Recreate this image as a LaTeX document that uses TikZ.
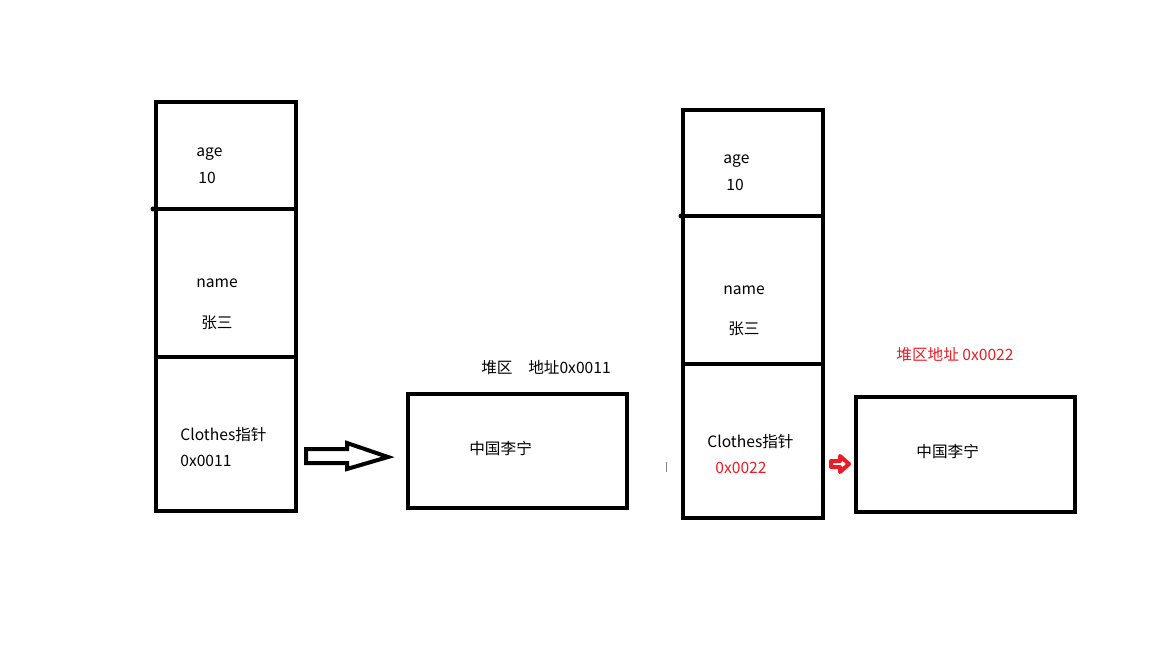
\documentclass[tikz,border=0pt]{standalone}
\usepackage{fontspec}
\setmainfont{Noto Sans CJK SC}
\definecolor{ptrred}{RGB}{237,28,36}
\begin{document}
\begin{tikzpicture}[x=0.02cm, y=-0.02cm,
    cell/.style={rectangle, draw, line width=0.08cm, inner sep=0pt, outer sep=0pt, minimum width=2.8cm},
    heap node/.style={rectangle, draw, line width=0.08cm, inner sep=0pt, outer sep=0pt, minimum width=4.38cm},
    txt/.style={anchor=west, inner sep=0pt}]
        \tikzstyle{every node}=[font=\fontsize{8.9}{10}\selectfont]
        \useasboundingbox (0,0) rectangle (1152,648);

          % stack, first object
          \node[cell, minimum height=2.14cm] (age1) at (226,155.5) {};
          \node[cell, minimum height=2.96cm] (name1) at (226,283) {};
          \node[cell, minimum height=3.08cm] (cloth1) at (226,434) {};
          \fill (153,209) circle (2.5);
          \node[txt] (agek1) at (196,154) {age};
          \node[txt] (agev1) at (198,178) {10};
          \node[txt] (namek1) at (196,283) {name};
          \node[txt] (namev1) at (201,323) {张三};
          \node[txt] (clothk1) at (180,435) {Clothes指针};
          \node[txt] (clothv1) at (180,461) {0x0011};

          % heap, first object
          \node[heap node, minimum height=2.28cm] (heap1) at (517.5,451) {};
          \node[txt] (heapt1) at (481,368) {堆区\quad 地址0x0011};
          \node[txt] (heapv1) at (469,449) {中国李宁};
          \coordinate (a1) at (306,456);
          \draw[line width=0.08cm, line join=miter] (a1) ++(0,-7) -- ++(41,0) -- ++(0,-6)
              -- ++(41,14) -- ++(-41,12) -- ++(0,-6) -- ++(-41,0) -- cycle;

          % stack, second object
          \node[cell, minimum height=2.12cm] (age2) at (753,163) {};
          \node[cell, minimum height=2.96cm] (name2) at (753,290) {};
          \node[cell, minimum height=3.08cm] (cloth2) at (753,441) {};
          \fill (681,216) circle (2.5);
          \node[txt] (agek2) at (723,161) {age};
          \node[txt] (agev2) at (726,185) {10};
          \node[txt] (namek2) at (723,290) {name};
          \node[txt] (namev2) at (728,329) {张三};
          \node[txt] (clothk2) at (707,442) {Clothes指针};
          \node[txt, text=ptrred] (clothv2) at (715,468) {0x0022};
          \draw[gray, line width=0.5pt] (666,462) -- (666,472);

          % heap, second object
          \node[heap node, minimum height=2.3cm] (heap2) at (965.5,454.5) {};
          \node[txt, text=ptrred] (heapt2) at (896,355) {堆区地址 0x0022};
          \node[txt] (heapv2) at (916,452) {中国李宁};
          \coordinate (a2) at (831,464);
          \draw[ptrred, fill=white, line width=0.08cm, line join=round] (a2) ++(0,-3) -- ++(9,0) -- ++(0,-5)
              -- ++(9,8) -- ++(-9,8) -- ++(0,-5) -- ++(-9,0) -- cycle;

        \end{tikzpicture}
\end{document}
